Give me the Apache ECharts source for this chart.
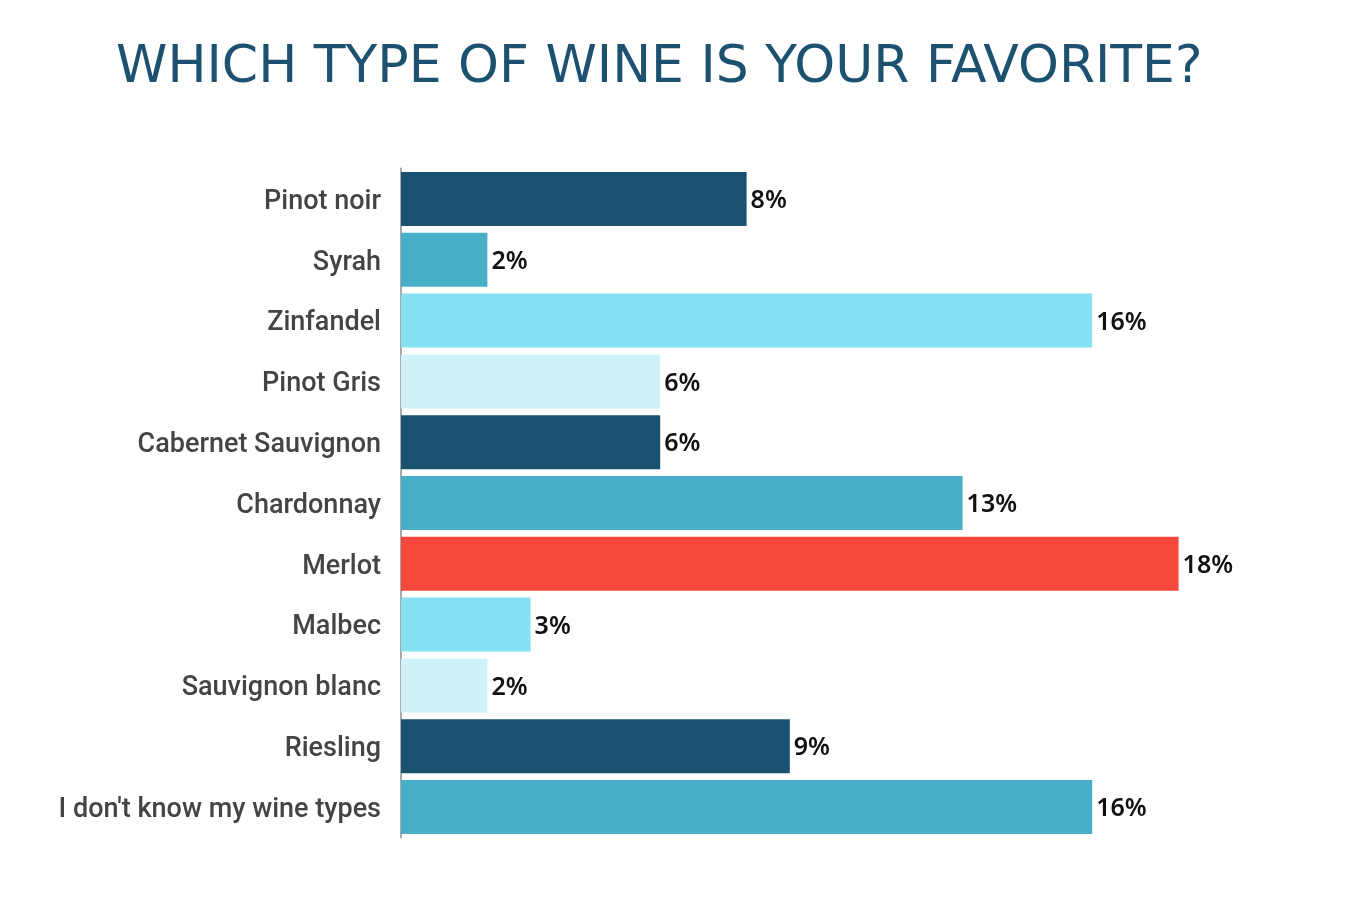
<!DOCTYPE html>
<html>
<head>
<meta charset="utf-8">
<script src="https://cdn.jsdelivr.net/npm/echarts@6/dist/echarts.min.js"></script>
<style>
html,body{margin:0;padding:0;background:#fff;}
#c{width:1366px;height:922px;}
</style>
</head>
<body>
<div id="c"></div>
<script>
const categories = ["Pinot noir","Syrah","Zinfandel","Pinot Gris","Cabernet Sauvignon","Chardonnay","Merlot","Malbec","Sauvignon blanc","Riesling","I don't know my wine types"];
const values = [8,2,16,6,6,13,18,3,2,9,16];
const barColors = ["#1a5070","#48afc9","#86e2f2","#cff2fa","#1a5070","#48afc9","#f7483d","#86e2f2","#cff2fa","#1a5070","#48afc9"];
const titleText = "WHICH TYPE OF WINE IS YOUR FAVORITE?";

const chart = echarts.init(document.getElementById('c'));
chart.setOption({
  backgroundColor:'#ffffff',
  animation:false,
  title:{
    text:titleText,
    left:111, top:37,
    textStyle:{fontFamily:'DejaVu Sans',fontWeight:'normal',fontSize:52,color:'#1c5170'}
  },
  grid:{left:401, top:168.6, width:864, bottom:84.6, containLabel:false},
  xAxis:{type:'value',min:0,max:20,show:false},
  yAxis:{
    type:'category',
    data:categories,
    inverse:true,
    axisLine:{show:true,lineStyle:{color:'#aaaaaa',width:2}},
    axisTick:{show:false},
    axisLabel:{
      margin:20,
      formatter:function(v){return '{a|'+v+'}';},
      rich:{a:{fontFamily:'Roboto',fontWeight:500,fontSize:27,color:'#444444',padding:[6,0,0,0]}}
    }
  },
  series:[{
    type:'bar',
    data:values.map((v,i)=>({value:v,itemStyle:{color:barColors[i]}})),
    barWidth:54,
    label:{show:true,position:'right',distance:4,
      formatter:function(p){return '{b|'+p.value+'%}';},
      rich:{b:{fontFamily:'Noto Sans',fontWeight:600,fontSize:25,color:'#111111',padding:[4,0,0,0]}}
    }
  }]
});
</script>
</body>
</html>
